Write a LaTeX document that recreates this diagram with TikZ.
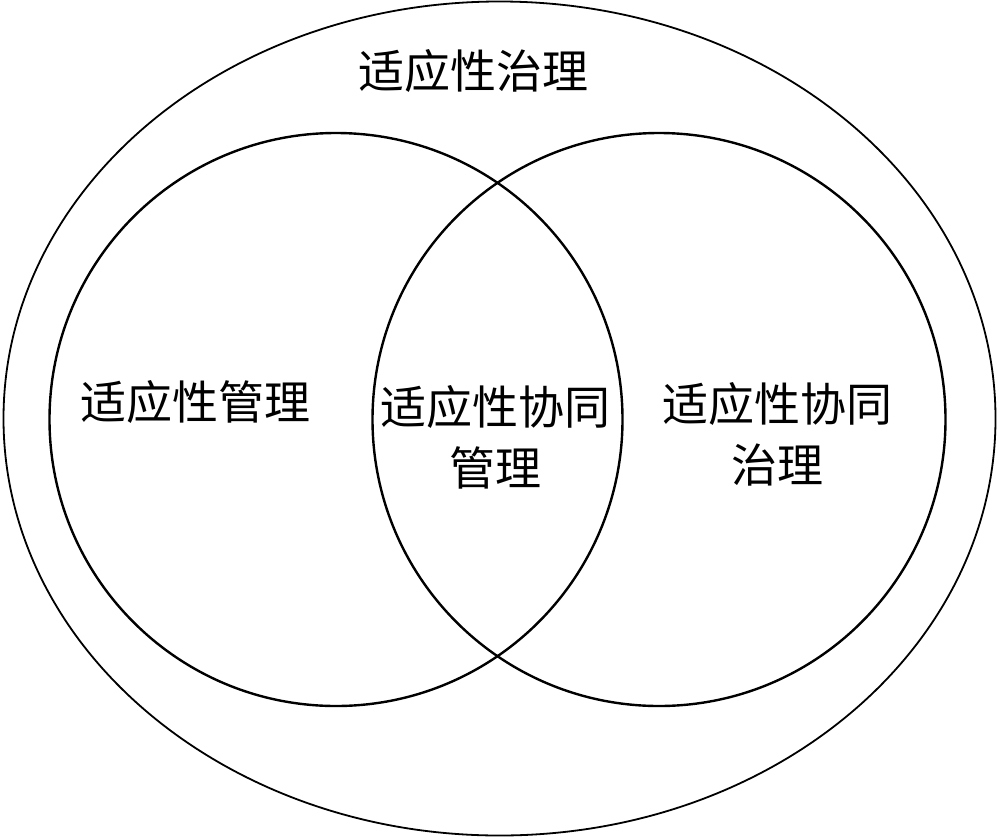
\documentclass[tikz,border=0pt]{standalone}
\usepackage{fontspec}
\newfontfamily\cjk{Noto Sans CJK SC}
\usetikzlibrary{shapes.geometric, positioning}

\begin{document}
\begin{tikzpicture}[x=1pt, y=-1pt, on grid,
    set/.style={draw, circle, line width=2.4pt, minimum size=573pt, inner sep=0pt},
    label/.style={font=\cjk\fontsize{46}{61}\selectfont, align=center, inner sep=0pt}]
           \useasboundingbox (0,0) rectangle (1000,838);
           \node[draw, ellipse, line width=1.8pt, minimum width=992pt, minimum height=834pt, inner sep=0pt](whole) at (499.5,418.5) {};
           \node[set](mset) at (336,419.5) {};
           \node[set](cset)[right=323pt of mset] {};
           \node[label](wtext) at (473,71) {适应性治理};
           \node[label](mtext) at (195,402) {适应性管理};
           \node[label](btext) at (495,437) {适应性协同\\管理};
           \node[label](ctext) at (777,434) {适应性协同\\治理};
        \end{tikzpicture}
\end{document}
